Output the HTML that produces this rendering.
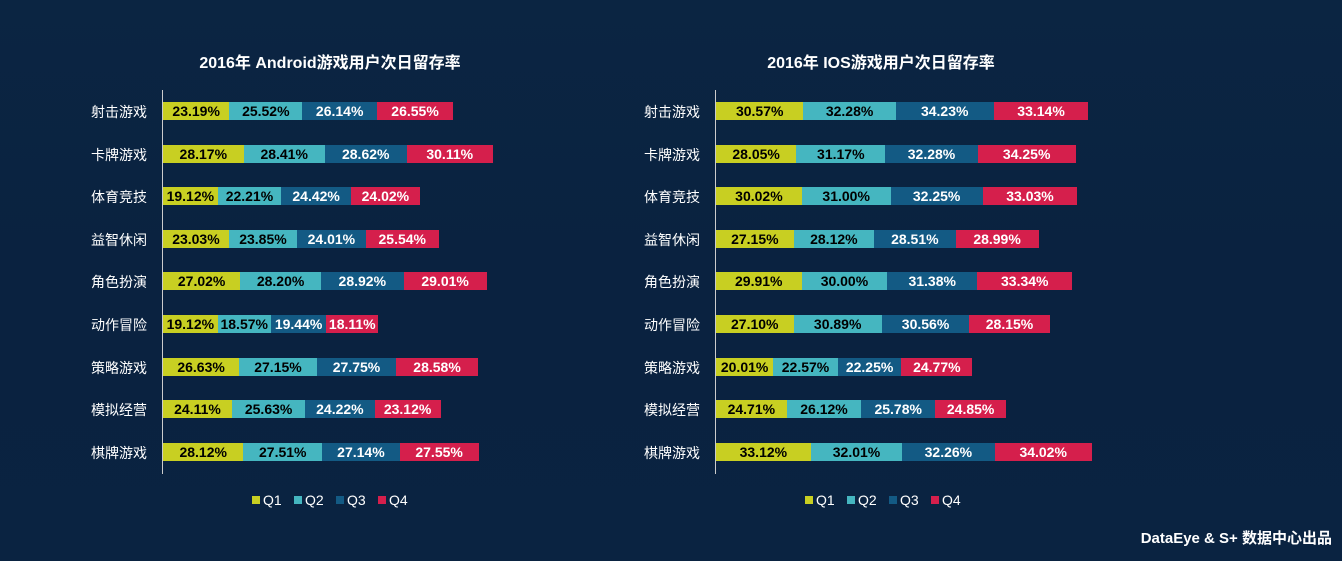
<!DOCTYPE html><html><head><meta charset="utf-8"><style>
body{margin:0;width:1342px;height:561px;overflow:hidden;background:linear-gradient(180deg,#0b2542 0%,#0a2240 50%,#0a2341 100%);font-family:"Liberation Sans","Noto Sans CJK SC",sans-serif;position:relative}
.t{position:absolute;color:#fff;font-weight:bold;font-size:16px;text-align:center}
.ax{position:absolute;width:1px;background:#ccc}
.cat{position:absolute;color:#fff;font-size:14px;text-align:right;width:100px}
.seg{position:absolute;height:18px;font-weight:bold;font-size:14px;line-height:18px;text-align:center;white-space:nowrap;overflow:visible}
.lg{position:absolute;font-size:14px;color:#fff;line-height:16px}
.sq{position:absolute;width:8px;height:8px}
</style></head><body>
<div class="t" style="left:130px;top:49px;width:400px">2016年 Android游戏用户次日留存率</div>
<div class="t" style="left:681px;top:49px;width:400px">2016年 IOS游戏用户次日留存率</div>
<div class="ax" style="left:162px;top:90px;height:384px"></div>
<div class="ax" style="left:715px;top:90px;height:384px"></div>
<div id="c"></div>
<div style="position:absolute;right:10px;top:527px;color:#fff;font-weight:bold;font-size:15px">DataEye &amp; S+ 数据中心出品</div>
<script>
var cats=["射击游戏","卡牌游戏","体育竞技","益智休闲","角色扮演","动作冒险","策略游戏","模拟经营","棋牌游戏"];
var A=[[23.19,25.52,26.14,26.55],[28.17,28.41,28.62,30.11],[19.12,22.21,24.42,24.02],[23.03,23.85,24.01,25.54],[27.02,28.20,28.92,29.01],[19.12,18.57,19.44,18.11],[26.63,27.15,27.75,28.58],[24.11,25.63,24.22,23.12],[28.12,27.51,27.14,27.55]];
var I=[[30.57,32.28,34.23,33.14],[28.05,31.17,32.28,34.25],[30.02,31.00,32.25,33.03],[27.15,28.12,28.51,28.99],[29.91,30.00,31.38,33.34],[27.10,30.89,30.56,28.15],[20.01,22.57,22.25,24.77],[24.71,26.12,25.78,24.85],[33.12,32.01,32.26,34.02]];
var col=["#c8cf22","#45b6c0","#135a84","#d51f4c"],tc=["#000","#000","#fff","#fff"];
var h="",s=2.86;
function draw(D,x0){for(var r=0;r<9;r++){var y=102+r*42.6;h+='<div class="cat" style="left:'+(x0-115)+'px;top:'+(y)+'px">'+cats[r]+'</div>';var x=x0+1;for(var q=0;q<4;q++){var w=D[r][q]*s;h+='<div class="seg" style="left:'+x+'px;top:'+y+'px;width:'+w+'px;background:'+col[q]+';color:'+tc[q]+'">'+D[r][q].toFixed(2)+'%</div>';x+=w;}}
 for(var q=0;q<4;q++){var lx=x0+90+q*42;h+='<div class="sq" style="left:'+lx+'px;top:496px;background:'+col[q]+'"></div><div class="lg" style="left:'+(lx+11)+'px;top:492px">Q'+(q+1)+'</div>';}}
draw(A,162);draw(I,715);
document.getElementById("c").innerHTML=h;
</script>
</body></html>
